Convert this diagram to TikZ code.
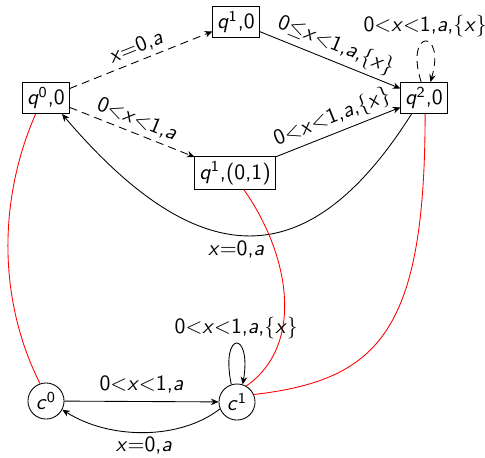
\documentclass[tikz,border=0pt]{standalone}
\usepackage{fontspec}
\usetikzlibrary{arrows.meta}
\newcommand\myx{\textit{x}}
\newcommand\mya{\textit{a}}
\newcommand\myq{\textit{q}}
\newcommand\myc{\textit{c}}
\begin{document}
\begin{tikzpicture}[x=0.46pt,y=-0.46pt,
  every node/.style={font=\sffamily},
  st/.style={draw,inner sep=2pt},
  cst/.style={draw,circle,minimum size=16.6pt,inner sep=0pt},
  tr/.style={-{Stealth[length=3.5pt,width=3pt]}},
  dsh/.style={dash pattern=on 3.7pt off 2.4pt},
  lab/.style={font=\sffamily,inner sep=2pt},
  lnk/.style={red}]
\useasboundingbox (0,0) rectangle (485,457);
\node[st] (q0) at (46,98) {\myq\textsuperscript{0},0};
\node[st] (q10) at (236,22) {\myq\textsuperscript{1},0};
\node[st] (q2) at (424,98) {\myq\textsuperscript{2},0};
\node[st] (q11) at (235,173) {\myq\textsuperscript{1},(0,1)};
\node[cst] (c0) at (46,401) {\myc\textsuperscript{0}};
\node[cst] (c1) at (237,402) {\myc\textsuperscript{1}};

\draw[tr,dsh] (q0) -- node[lab,sloped,above] {\myx=0,\mya} (q10);
\draw[tr,dsh] (q0) -- node[lab,sloped,above] {0<\myx<1,\mya} (q11);
\draw[tr] (q10) -- node[lab,sloped,above] {0$\leq$\myx<1,\mya,\{\myx\}} (q2);
\draw[tr] (q11) -- node[lab,sloped,above] {0<\myx<1,\mya,\{\myx\}} (q2);
\draw[tr,dsh] (q2.100) .. controls (404,28) and (446,28) .. node[lab,above] {0<\myx<1,\mya,\{\myx\}} (q2.68);
\draw[tr] (q2.-128) .. controls (309,276) and (200,276) .. node[lab,below=0.5pt,pos=0.54] {\myx=0,\mya} (q0.-45);

\draw[lnk] (q0.-123) .. controls (-2,200) and (-2,300) .. (c0.109);
\draw[lnk] (c1.60) .. controls (305,345) and (290,255) .. (q11.-62);
\draw[lnk] (c1.24) .. controls (380,380) and (425,330) .. (q2.-86);

\draw[tr] (c1.108) .. controls (220,330) and (252,330) .. node[lab,above] {0<\myx<1,\mya,\{\myx\}} (c1.72);
\draw[tr] (c0) -- node[lab,above=1.5pt] {0<\myx<1,\mya} (c1);
\draw[tr] (c1.-158) .. controls (180,440) and (110,440) .. node[lab,below] {\myx=0,\mya} (c0.-28);
\end{tikzpicture}
\end{document}
